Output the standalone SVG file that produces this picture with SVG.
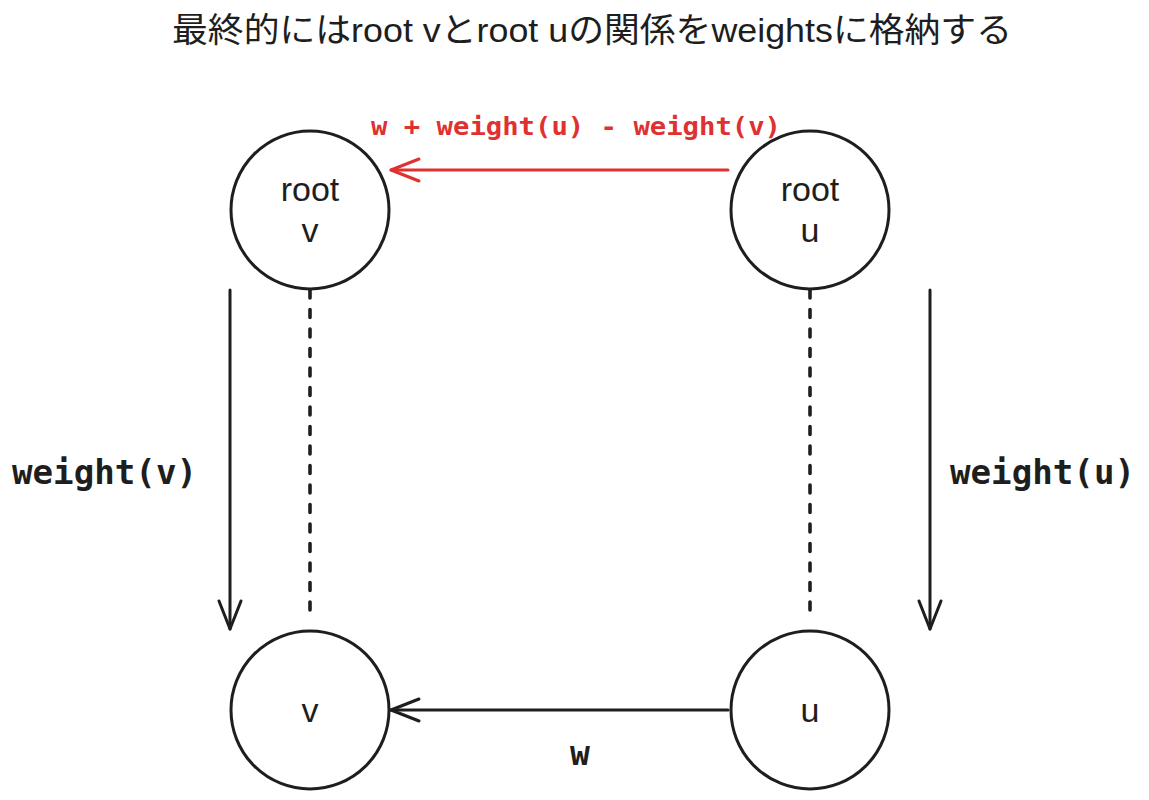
<svg xmlns="http://www.w3.org/2000/svg" width="1149" height="800" viewBox="0 0 1149 800">
  <style>
    .node { fill: #ffffff; stroke: #1e1e1e; stroke-width: 3; }
    .ntext { font-family: "Liberation Sans", Arial, sans-serif; font-size: 34px; fill: #1e1e1e; text-anchor: middle; }
    .edge { fill: none; stroke: #1e1e1e; stroke-width: 3; stroke-linecap: round; }
    .red { stroke: #e03131; }
    .dash { stroke-width: 3.6; stroke-dasharray: 8 11.5; }
    .lbl { font-family: "DejaVu Sans Mono", "Liberation Mono", monospace; font-weight: bold; font-size: 33px; fill: #1e1e1e; }
    .rlbl { font-family: "DejaVu Sans Mono", "Liberation Mono", monospace; font-weight: bold; font-size: 24px; fill: #e03131; }
    .title { font-family: "Liberation Sans", "Noto Sans CJK JP", sans-serif; font-size: 34px; fill: #1e1e1e; text-anchor: middle; }
  </style>
  <defs>
    <marker id="ah" markerUnits="userSpaceOnUse" orient="auto" refX="0" refY="0" markerWidth="40" markerHeight="30" overflow="visible">
      <path d="M-28,-11 L0,0 L-28,11" fill="none" stroke="#1e1e1e" stroke-width="3" stroke-linecap="round" stroke-linejoin="round"/>
    </marker>
    <marker id="ahr" markerUnits="userSpaceOnUse" orient="auto" refX="0" refY="0" markerWidth="40" markerHeight="30" overflow="visible">
      <path d="M-28,-11 L0,0 L-28,11" fill="none" stroke="#e03131" stroke-width="3" stroke-linecap="round" stroke-linejoin="round"/>
    </marker>
  </defs>
  <rect width="1149" height="800" fill="#ffffff"/>

  <text class="title" x="592" y="42" textLength="840" lengthAdjust="spacingAndGlyphs">最終的にはroot vとroot uの関係をweightsに格納する</text>

  <g id="connectors">
    <line class="edge red" x1="728" y1="170" x2="391" y2="170" marker-end="url(#ahr)"/>
    <line class="edge" x1="728" y1="710" x2="391" y2="710" marker-end="url(#ah)"/>
    <line class="edge" x1="230" y1="290" x2="230" y2="629" marker-end="url(#ah)"/>
    <line class="edge" x1="930" y1="290" x2="930" y2="629" marker-end="url(#ah)"/>
    <line class="edge dash" x1="310" y1="290" x2="310" y2="618"/>
    <line class="edge dash" x1="810" y1="290" x2="810" y2="618"/>
    <text class="rlbl" x="371" y="135" textLength="410" lengthAdjust="spacingAndGlyphs">w + weight(u) - weight(v)</text>
    <text class="lbl" x="12" y="484" textLength="185" lengthAdjust="spacingAndGlyphs">weight(v)</text>
    <text class="lbl" x="950" y="484" textLength="185" lengthAdjust="spacingAndGlyphs">weight(u)</text>
    <text class="lbl" x="580" y="765" text-anchor="middle">w</text>
  </g>

  <g id="node-root-v">
    <circle class="node" cx="310" cy="210" r="79"/>
    <text class="ntext" x="310" y="201">root</text>
    <text class="ntext" x="310" y="242">v</text>
  </g>
  <g id="node-root-u">
    <circle class="node" cx="810" cy="210" r="79"/>
    <text class="ntext" x="810" y="201">root</text>
    <text class="ntext" x="810" y="242">u</text>
  </g>
  <g id="node-v">
    <circle class="node" cx="310" cy="710" r="79"/>
    <text class="ntext" x="310" y="722">v</text>
  </g>
  <g id="node-u">
    <circle class="node" cx="810" cy="710" r="79"/>
    <text class="ntext" x="810" y="722">u</text>
  </g>
</svg>
